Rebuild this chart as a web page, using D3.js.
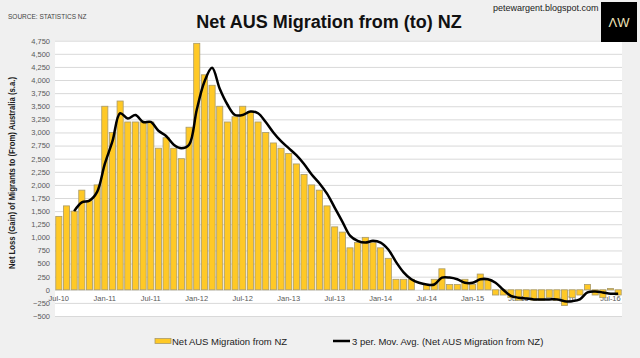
<!DOCTYPE html>
<html>
<head>
<meta charset="utf-8">
<script src="https://cdn.jsdelivr.net/npm/d3@7"></script>
<style>
  body { margin: 0; background: #f0f0f0; }
  svg { display: block; font-family: 'Liberation Sans Narrow', 'Liberation Sans', Arial, sans-serif; }
</style>
</head>
<body>
<script>
// monthly net migration, Jul-10 .. Aug-16 (seasonally adjusted)
const values2010 = [1400, 1600, 1500, 1900, 1700, 2000];
const values2011 = [3500, 3000, 3600, 3200, 3200, 3200, 3200, 2700, 2900, 2700, 2500, 3100];
const values2012 = [4700, 4100, 3900, 3500, 3200, 3300, 3500, 3400, 3200, 3000, 2800, 2700];
const values2013 = [2600, 2400, 2200, 2000, 1900, 1600, 1200, 1100, 800, 900, 1000, 900];
const values2014 = [800, 600, 200, 200, 200, 0, 100, 200, 400, 100, 100, 200];
const values2015 = [100, 300, 200, -100, -100, -150, -200, -150, -200, -200, -150, -200];
const values2016 = [-300, -150, -100, 100, -100, -150, 25, -100];

// 3 period moving average as drawn (starts at the 3rd month)
const movAvg = [null, null, 1500, 1667, 1700, 1867,
  2400, 2833, 3367, 3267, 3333, 3200, 3200, 3033, 2933, 2767, 2700, 2767,
  3433, 3967, 4233, 3833, 3533, 3333, 3333, 3400, 3367, 3200, 3000, 2833,
  2700, 2567, 2400, 2200, 2033, 1833, 1567, 1300, 1033, 933, 900, 933,
  900, 767, 533, 333, 200, 133, 100, 100, 233, 233, 200, 133,
  133, 200, 200, 133, 0, -117, -150, -167, -183, -183, -183, -183,
  -217, -217, -183, -50, -33, -50, -75, -75];

const tickLabels = ['Jul-10', 'Jan-11', 'Jul-11', 'Jan-12', 'Jul-12', 'Jan-13', 'Jul-13',
                    'Jan-14', 'Jul-14', 'Jan-15', 'Jul-15', 'Jan-16', 'Jul-16'];
const yTicks = d3.range(-500, 4751, 250);

const netMigration = [].concat(values2010, values2011, values2012, values2013, values2014, values2015, values2016);

const svgW = 640, svgH = 358;
const plotL = 55, plotR = 622, plotT = 40.7, plotB = 316;

const svg = d3.select('body')
  .append('svg')
  .attr('width', svgW)
  .attr('height', svgH);

svg.append('rect')
   .attr('width', svgW).attr('height', svgH)
   .attr('fill', '#f0f0f0');

// plot area
svg.append('rect')
   .attr('x', plotL).attr('y', plotT)
   .attr('width', plotR - plotL).attr('height', plotB - plotT)
   .attr('fill', '#fff');

const xScale = d3.scaleBand()
                 .domain(d3.range(netMigration.length))
                 .range([plotL, plotR])
                 .paddingInner(0.2)
                 .paddingOuter(0.1);
const yScale = d3.scaleLinear()
                 .domain([-500, 4750])
                 .range([plotB, plotT]);

// gridlines
svg.append('g')
   .attr('transform', `translate(${plotL}, 0)`)
   .call(d3.axisLeft(yScale).tickValues(yTicks).tickSize(-(plotR - plotL)).tickFormat(''))
   .call(g => g.select('.domain').remove())
   .call(g => g.selectAll('line').attr('stroke', '#d9d9d9').attr('stroke-width', 1));

// y axis labels
svg.append('g')
   .attr('id', 'y-axis')
   .attr('transform', `translate(${plotL - 5}, 0)`)
   .call(d3.axisLeft(yScale).tickValues(yTicks).tickSize(0).tickPadding(0).tickFormat(d3.format(',')))
   .call(g => g.select('.domain').remove())
   .call(g => g.selectAll('text')
               .attr('fill', '#595959')
               .attr('font-size', '7.5px')
               .attr('font-family', "'Liberation Sans Narrow', Arial, sans-serif"));

// x axis labels sit next to the zero line
const xCenter = i => xScale(i) + xScale.bandwidth() / 2;
svg.append('g')
   .attr('id', 'x-axis')
   .attr('transform', `translate(0, ${yScale(0)})`)
   .call(d3.axisBottom(xScale)
           .tickValues(d3.range(0, netMigration.length, 6))
           .tickSize(0).tickPadding(6)
           .tickFormat((d, i) => tickLabels[i]))
   .call(g => g.select('.domain').remove())
   .call(g => g.selectAll('text')
               .attr('fill', '#595959')
               .attr('font-size', '7.5px')
               .attr('font-family', "'Liberation Sans Narrow', Arial, sans-serif"));

// bars
svg.selectAll('rect.bar')
   .data(netMigration)
   .enter()
   .append('rect')
   .attr('class', 'bar')
   .attr('x', (d, i) => xScale(i))
   .attr('y', d => yScale(Math.max(0, d)))
   .attr('width', xScale.bandwidth())
   .attr('height', d => Math.abs(yScale(d) - yScale(0)))
   .attr('fill', '#ffc926')
   .attr('stroke', '#a89a6a')
   .attr('stroke-width', 0.8);

// moving average line
const line = d3.line()
               .defined(d => d != null)
               .x((d, i) => xCenter(i))
               .y(d => yScale(d))
               .curve(d3.curveCatmullRom.alpha(0.5));

svg.append('path')
   .datum(movAvg)
   .attr('d', line)
   .attr('fill', 'none')
   .attr('stroke', '#000')
   .attr('stroke-width', 2.5)
   .attr('stroke-linejoin', 'round');

// titles
svg.append('text')
   .attr('x', 329).attr('y', 28)
   .attr('text-anchor', 'middle')
   .attr('font-size', '18px')
   .attr('font-weight', 'bold')
   .attr('fill', '#111')
   .text('Net AUS Migration from (to) NZ');

svg.append('text')
   .attr('x', 8).attr('y', 19)
   .attr('font-size', '6.5px')
   .attr('fill', '#444')
   .text('SOURCE: STATISTICS NZ');

svg.append('text')
   .attr('x', 493).attr('y', 11)
   .attr('font-size', '9px')
   .attr('fill', '#222')
   .text('petewargent.blogspot.com');

svg.append('rect')
   .attr('x', 601).attr('y', 2)
   .attr('width', 36).attr('height', 40)
   .attr('fill', '#000');
svg.append('text')
   .attr('x', 619).attr('y', 27)
   .attr('text-anchor', 'middle')
   .attr('font-size', '13px')
   .attr('fill', '#efe3b8')
   .text('ΛW');

svg.append('text')
   .attr('transform', 'translate(15, 173) rotate(-90)')
   .attr('text-anchor', 'middle')
   .attr('font-size', '9px')
   .attr('font-weight', 'bold')
   .attr('fill', '#222')
   .attr('textLength', 192)
   .attr('lengthAdjust', 'spacingAndGlyphs')
   .text('Net Loss (Gain) of Migrants to (From) Australia (s.a.)');

// legend
const legend = svg.append('g').attr('font-size', '9.5px').attr('fill', '#222');
legend.append('rect')
      .attr('x', 155).attr('y', 338.5)
      .attr('width', 16).attr('height', 5)
      .attr('fill', '#ffc926').attr('stroke', '#a89a6a').attr('stroke-width', 0.8);
legend.append('text').attr('x', 172).attr('y', 344.5).text('Net AUS Migration from NZ');
legend.append('line')
      .attr('x1', 333).attr('x2', 350).attr('y1', 341).attr('y2', 341)
      .attr('stroke', '#000').attr('stroke-width', 2.5);
legend.append('text').attr('x', 352).attr('y', 344.5).text('3 per. Mov. Avg. (Net AUS Migration from NZ)');
</script>
</body>
</html>
